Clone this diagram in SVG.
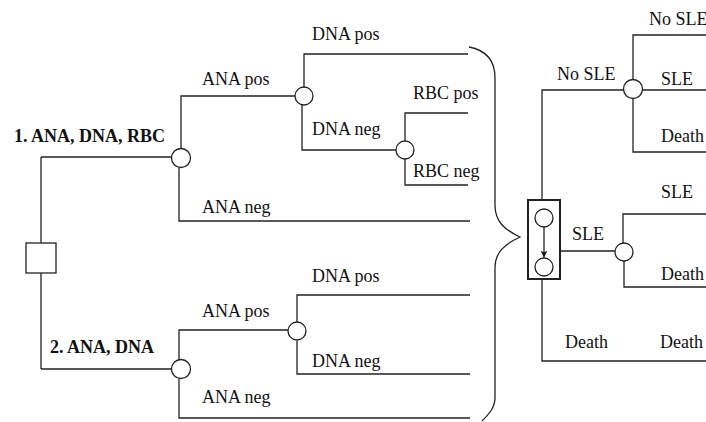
<svg xmlns="http://www.w3.org/2000/svg" width="706" height="422" viewBox="0 0 706 422">
<defs>
<marker id="ah" viewBox="0 0 10 10" refX="10" refY="5" markerWidth="7" markerHeight="9" markerUnits="userSpaceOnUse" orient="auto">
<path d="M0,0 L10,5 L0,10 L3,5 Z" fill="#111"/>
</marker>
<style>
.ln{fill:none;stroke:#222;stroke-width:1.3}
.nd{fill:#fff;stroke:#222;stroke-width:1.3}
.bx{fill:none;stroke:#222;stroke-width:2}
text{font-family:"Liberation Serif","Times New Roman",serif;font-size:18px;fill:#111}
.b{font-weight:bold}
</style>
</defs>
<rect width="706" height="422" fill="#fff"/>
<g id="markov"><rect class="bx" x="528" y="200" width="32" height="79"/><circle class="nd" cx="544" cy="218" r="9"/><circle class="nd" cx="544" cy="267" r="9"/></g>
<g id="connectors">
<path class="ln" d="M41,157 V243 M41,273 V369 M41,157 H171.5"/>
<path class="ln" d="M181,148.5 V96 H295 M179,167.5 V221 H470"/>
<path class="ln" d="M304,87 V54 H468 M302,105 V150 H396"/>
<path class="ln" d="M405,141 V113 H468 M405,159 V185 H468"/>
<path class="ln" d="M41,369 H171.5 M179,359.5 V330 H288.5 M179,378.5 V418 H470"/>
<path class="ln" d="M297,323 V295 H470 M297,341 V374 H470"/>
<path class="ln" d="M469,47 C485,50 495,60 495,78 L495,205 C495,222 505,230 520,237 C505,244 495,252 495,268 L495,398 C495,408 488,415 482,421"/>
<path class="ln" d="M542,200 V90 H623.5 M633,79.5 V35 H706 M642.5,90 H706 M633,98.5 V152 H706"/>
<path class="ln" d="M560,251 H615 M623,243 V214 H706 M624,261 V287 H706"/>
<path class="ln" d="M542,279 V361 H706"/>
<path class="ln" d="M544,227 V257.5" marker-end="url(#ah)"/>
</g>
<g id="decision"><rect class="nd" x="26" y="243" width="30" height="30"/></g>
<g id="chance1"><circle class="nd" cx="181" cy="158" r="9.5"/><text class="b" x="14" y="142">1. ANA, DNA, RBC</text></g>
<g id="chance1a"><circle class="nd" cx="304" cy="96" r="9"/><text x="202" y="85">ANA pos</text><text x="202" y="213">ANA neg</text></g>
<g id="chance1b"><circle class="nd" cx="405" cy="150" r="9"/><text x="312" y="40">DNA pos</text><text x="312" y="135">DNA neg</text><text x="413" y="99">RBC pos</text><text x="413" y="177">RBC neg</text></g>
<g id="chance2"><circle class="nd" cx="181" cy="369" r="9.5"/><text class="b" x="50" y="353">2. ANA, DNA</text><text x="202" y="317">ANA pos</text><text x="202" y="403">ANA neg</text></g>
<g id="chance2a"><circle class="nd" cx="297" cy="331" r="9"/><text x="312" y="282">DNA pos</text><text x="312" y="367">DNA neg</text></g>
<g id="noSle"><circle class="nd" cx="633" cy="89" r="9.5"/><text x="557" y="80">No SLE</text><text x="649" y="25">No SLE</text><text x="661" y="85">SLE</text><text x="661" y="142">Death</text></g>
<g id="sle"><circle class="nd" cx="624" cy="252" r="9"/><text x="572" y="240">SLE</text><text x="661" y="198">SLE</text><text x="661" y="280">Death</text></g>
<g id="death"><text x="565" y="348">Death</text><text x="660" y="348">Death</text></g>
</svg>
